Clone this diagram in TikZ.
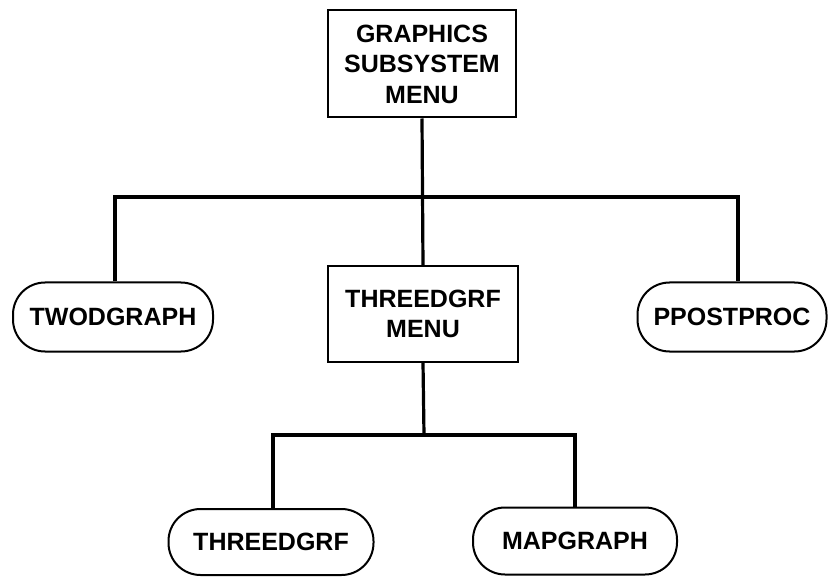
\documentclass[tikz,border=0pt]{standalone}
\usepackage{fontspec}
\setmainfont{Liberation Sans}
\begin{document}
\begin{tikzpicture}[x=1pt,y=-1pt,
  menubox/.style={draw,line width=2pt,align=center,inner sep=0pt,
    font=\bfseries\fontsize{25}{30.5}\selectfont},
  prog/.style={draw,line width=2pt,rounded corners=32pt,inner sep=0pt,
    font=\bfseries\fontsize{25}{30.5}\selectfont},
  conn/.style={line width=3.2pt}]
\useasboundingbox (0,0) rectangle (830,577);
\node[menubox,minimum width=188pt,minimum height=107pt] (top) at (422,64) {GRAPHICS\\SUBSYSTEM\\MENU};
\node[menubox,minimum width=190pt,minimum height=95pt] (mid) at (423,314) {THREEDGRF\\MENU};
\node[prog,minimum width=200pt,minimum height=69pt] (two) at (113,317) {TWODGRAPH};
\node[prog,minimum width=189pt,minimum height=69pt] (post) at (732,317) {PPOSTPROC};
\node[prog,minimum width=205pt,minimum height=66pt] (three) at (271,542) {THREEDGRF};
\node[prog,minimum width=204pt,minimum height=67pt] (map) at (575,541) {MAPGRAPH};
\coordinate (j1) at (423,197);
\coordinate (j2) at (424,435);
\draw[conn] (top.south) -- (mid.north);
\draw[conn] ([xshift=2pt]two.north) |- (j1) -| ([xshift=6pt]post.north);
\draw[conn] (mid.south) -- (j2);
\draw[conn] ([xshift=2pt]three.north) |- (j2) -| (map.north);
\end{tikzpicture}
\end{document}
